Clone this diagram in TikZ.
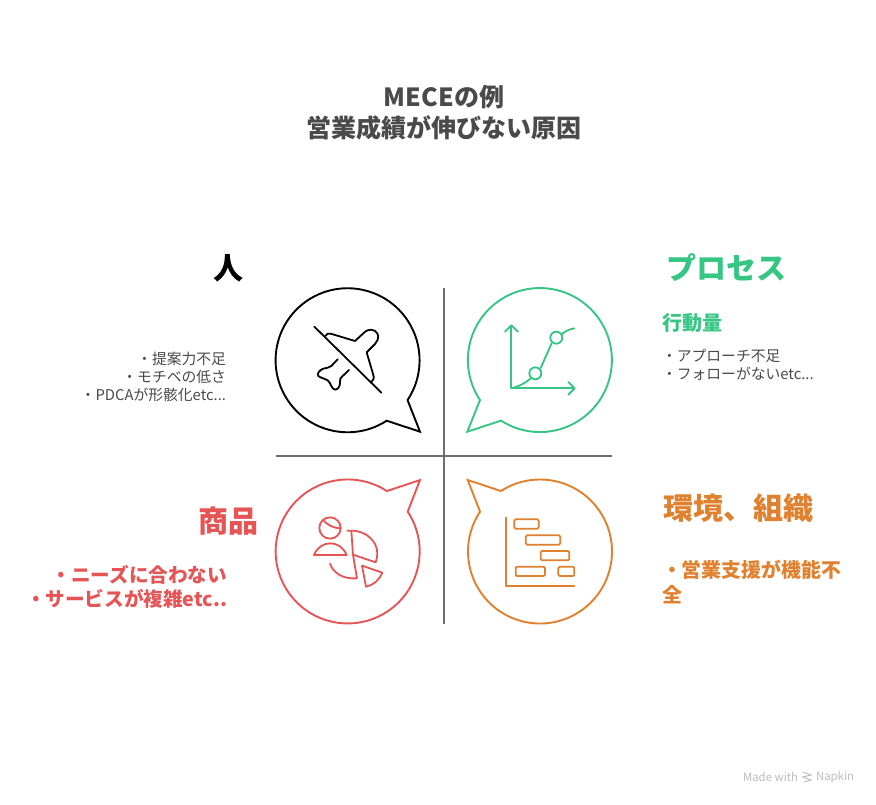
\documentclass[tikz,border=0pt]{standalone}
\usepackage{fontspec}
\setmainfont{Noto Sans CJK JP}
\definecolor{ink}{HTML}{4A4A4A}
\definecolor{divider}{HTML}{6E6E6E}
\definecolor{grn}{HTML}{36C684}
\definecolor{rd}{HTML}{E65555}
\definecolor{org}{HTML}{E0812F}
\definecolor{foot}{HTML}{BDBDBD}
\tikzset{
  bubble/.style={line width=1.9pt,line join=miter},
  icon/.style={line width=1.8pt,line cap=round,line join=round},
  txt/.style={inner sep=0pt,outer sep=0pt},
}
\begin{document}
\begin{tikzpicture}[x=1pt,y=1pt,yscale=-1]
\useasboundingbox (0,0) rectangle (876,804);
\fill[white] (0,0) rectangle (876,804);
% dividers
\coordinate (vt) at (444,288); \coordinate (vb) at (444,624);
\coordinate (hl) at (276,456); \coordinate (hr) at (612,456);
\draw[divider,line width=1.7pt] (vt) -- (vb);
\draw[divider,line width=1.7pt] (hl) -- (hr);
% bubbles
\draw[bubble,black] (386.7,420.7) arc[start angle=57.1,end angle=393.6,radius=72] -- (420,431.7) -- cycle;
\draw[bubble,grn] (480,400) arc[start angle=146.3,end angle=482.7,radius=72] -- (467.3,431.7) -- cycle;
\draw[bubble,rd] (407.7,511.7) arc[start angle=-33.5,end angle=303,radius=72] -- (420,480) -- cycle;
\draw[bubble,org] (501,491) arc[start angle=237.2,end angle=573.6,radius=72] -- (467.7,480) -- cycle;
% plane icon
\begin{scope}[shift={(260,270)},x=0.3333pt,y=0.3333pt,black]
\draw[icon] (163,170) -- (364,368);
\draw[icon] (197,197) .. controls (200,191) and (205,189) .. (212,191) -- (285,213) -- (310,190)
  .. controls (325,174) and (345,176) .. (353,192) .. controls (357,205) and (352,215) .. (345,222)
  -- (320,247) -- (340,315) .. controls (343,325) and (340,331) .. (335,335);
\draw[icon] (233,268) -- (214,288) .. controls (208,293) and (198,294) .. (190,296)
  .. controls (178,300) and (170,312) .. (175,318) .. controls (180,323) and (195,326) .. (203,331)
  .. controls (212,338) and (215,358) .. (225,359) .. controls (236,359) and (241,345) .. (240,335)
  .. controls (239,327) and (242,324) .. (246,320) -- (267,300);
\end{scope}
% growth chart icon
\begin{scope}[shift={(450,270)},x=0.3333pt,y=0.3333pt,grn]
\draw[icon] (184,167) -- (184,355) -- (373,355);
\draw[icon] (165,185) -- (184,166) -- (204,185);
\draw[icon] (355,336) -- (374,355) -- (355,374);
\draw[icon] (256,310) circle[radius=18];
\draw[icon] (319,203) circle[radius=18];
\draw[icon] (184,355) .. controls (205,350) and (225,340) .. (241,326);
\draw[icon] (272,294) -- (305,220);
\draw[icon] (336,192) .. controls (348,182) and (360,177) .. (373,175);
\end{scope}
% people and pie icon
\begin{scope}[shift={(260,460)},x=0.3333pt,y=0.3333pt,rd]
\draw[icon] (210,204) circle[radius=32];
\draw[icon] (189,180) .. controls (202,195) and (222,205) .. (242,205);
\draw[icon] (162,285) .. controls (172,262) and (190,250) .. (211,250) .. controls (232,250) and (250,262) .. (260,285) -- cycle;
\draw[icon] (262,212) -- (274,212) .. controls (320,212) and (352,245) .. (352,280) .. controls (352,290) and (350,298) .. (347,307) -- (279,284) -- (274,212);
\draw[icon] (210,311) .. controls (220,340) and (250,358) .. (291,355) -- (279,284);
\draw[icon] (306,317) -- (367,338) .. controls (358,360) and (340,376) .. (318,380) -- cycle;
\end{scope}
% gantt icon
\begin{scope}[shift={(450,460)},x=0.3333pt,y=0.3333pt,org]
\draw[icon] (168,173) -- (168,377) -- (373,377);
\draw[icon,rounded corners=1.3pt] (193,178) rectangle (266,206);
\draw[icon,rounded corners=1.3pt] (227,226) rectangle (331,254);
\draw[icon,rounded corners=1.3pt] (272,273) rectangle (358,301);
\draw[icon,rounded corners=1.3pt] (197,320) rectangle (285,348);
\draw[icon,rounded corners=1.3pt] (325,320) rectangle (373,348);
\end{scope}
% title
\node[txt,ink,align=center,font=\fontsize{25}{31}\selectfont\bfseries] (title) at (444,112.5) {MECEの例\\営業成績が伸びない原因};
% top-left
\node[txt,black,anchor=east,font=\fontsize{30}{36}\selectfont\bfseries] (hito) at (243,268) {人};
\node[txt,ink,anchor=east,align=right,font=\fontsize{14.8}{18}\selectfont] (hitoT) at (226,377) {・提案力不足\\・モチベの低さ\\・PDCAが形骸化etc...};
% top-right
\node[txt,grn,anchor=west,font=\fontsize{30}{36}\selectfont\bfseries] (proc) at (666,268) {プロセス};
\node[txt,grn,anchor=west,font=\fontsize{20}{24}\selectfont\bfseries] (procS) at (662,323) {行動量};
\node[txt,ink,anchor=west,align=left,font=\fontsize{14.8}{17.5}\selectfont] (procT) at (662,365) {・アプローチ不足\\・フォローがないetc...};
% bottom-left
\node[txt,rd,anchor=east,font=\fontsize{30}{36}\selectfont\bfseries] (shohin) at (258,521) {商品};
\node[txt,rd,anchor=east,align=right,font=\fontsize{19.6}{24}\selectfont\bfseries] (shohinT) at (227,587) {・ニーズに合わない\\・サービスが複雑etc..};
% bottom-right
\node[txt,org,anchor=west,font=\fontsize{30}{36}\selectfont\bfseries] (kankyo) at (663,508) {環境、組織};
\node[txt,org,anchor=west,align=left,font=\fontsize{19.9}{25}\selectfont\bfseries] (kankyoT) at (662,581.5) {・営業支援が機能不\\全};
% footer
\node[txt,foot,anchor=west,font=\fontsize{11.4}{13}\selectfont] (made) at (743,777) {Made with};
\node[txt,foot,anchor=west,font=\fontsize{11.4}{13}\selectfont] (napkin) at (816,777) {Napkin};
\draw[foot,line width=1pt] (803,772) -- (811,775) -- (803,777) -- (811,780) -- (804,782);
\end{tikzpicture}
\end{document}
